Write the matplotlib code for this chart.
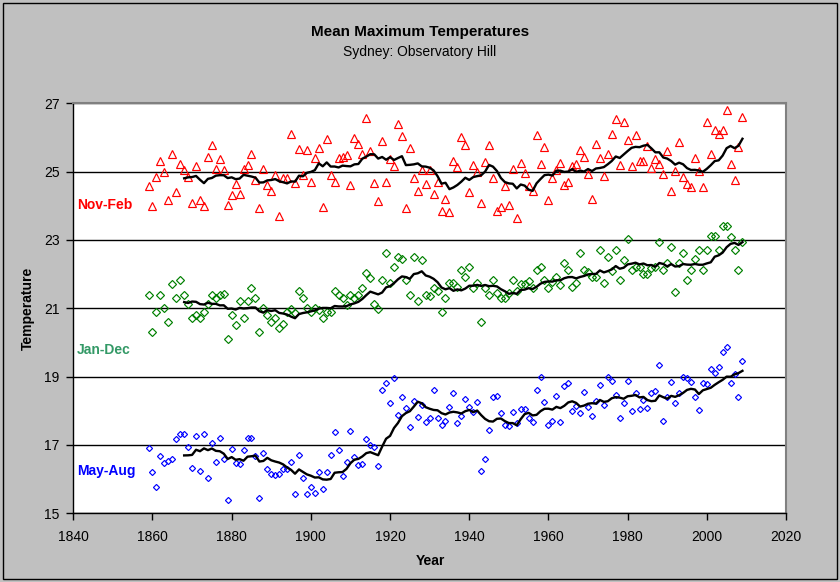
import matplotlib
matplotlib.use('Agg')
import matplotlib.pyplot as plt
import numpy as np
import pandas as pd
from matplotlib.patches import Rectangle

plt.rcParams['font.family'] = ['Liberation Sans', 'DejaVu Sans']

years = list(range(1859, 2010))

nov_feb = [
    24.57, 24.00, 24.84, 25.30, 24.98, 24.16, 25.52, 24.40, 25.22, 25.06,
    24.85, 24.09, 25.16, 24.18, 23.99, 25.42, 25.77, 25.08, 25.36, 25.04,
    24.02, 24.31, 24.63, 24.35, 25.08, 25.18, 25.52, 24.75, 23.93, 25.08,
    24.61, 24.42, 24.90, 23.71, 24.81, 24.82, 26.11, 24.68, 25.67, 24.90,
    25.63, 24.69, 25.41, 25.70, 23.96, 25.95, 24.90, 24.69, 25.39, 25.44,
    25.50, 24.61, 25.99, 25.80, 25.52, 26.56, 25.60, 24.66, 24.14, 25.91,
    24.70, 25.36, 25.16, 26.38, 26.05, 23.95, 25.68, 24.80, 24.42, 25.04,
    24.63, 25.04, 24.35, 24.71, 23.86, 24.21, 23.81, 25.30, 25.15, 26.01,
    25.77, 24.40, 25.18, 25.00, 24.09, 25.29, 25.77, 24.80, 23.86, 23.96,
    24.59, 24.02, 25.07, 23.63, 25.24, 24.97, 24.59, 24.43, 26.08, 25.21,
    25.73, 24.18, 24.80, 25.05, 25.24, 24.61, 24.69, 25.16, 25.22, 25.63,
    25.44, 24.92, 24.21, 25.80, 25.39, 24.87, 25.53, 26.11, 26.53, 25.20,
    26.46, 25.92, 25.16, 26.08, 25.30, 25.30, 25.76, 25.11, 25.36, 25.21,
    24.94, 25.60, 24.44, 25.03, 25.87, 24.84, 24.63, 24.56, 25.40, 25.03,
    24.56, 26.46, 25.51, 26.23, 26.09, 26.23, 26.80, 25.21, 24.75, 25.73,
    26.61,
]

jan_dec = [
    21.39, 20.30, 20.88, 21.39, 21.01, 20.61, 21.71, 21.31, 21.83, 21.39,
    21.12, 20.73, 20.80, 20.71, 20.90, 21.12, 21.39, 21.31, 21.39, 21.41,
    20.10, 20.80, 20.51, 21.21, 20.71, 21.21, 21.58, 21.31, 20.30, 21.00,
    20.80, 20.59, 20.73, 20.42, 20.53, 20.90, 20.98, 20.85, 21.51, 21.31,
    21.00, 20.88, 21.00, 20.95, 20.73, 20.90, 20.88, 21.51, 21.39, 21.29,
    21.10, 21.39, 21.31, 21.39, 21.58, 22.02, 21.90, 21.12, 20.98, 21.83,
    22.61, 21.73, 22.20, 22.51, 22.43, 21.83, 21.39, 22.51, 21.21, 22.41,
    21.39, 21.37, 21.58, 21.51, 20.88, 21.31, 21.73, 21.73, 21.63, 22.12,
    21.91, 22.20, 21.58, 21.75, 20.59, 21.58, 21.39, 21.83, 21.45, 21.31,
    21.31, 21.44, 21.83, 21.51, 21.70, 21.70, 21.81, 21.58, 22.12, 22.20,
    21.83, 21.58, 21.78, 21.91, 21.68, 22.32, 22.12, 21.61, 21.73, 22.61,
    22.12, 22.05, 21.91, 21.91, 22.71, 21.73, 22.51, 22.10, 22.71, 21.83,
    22.41, 23.03, 22.12, 22.20, 22.20, 22.00, 22.00, 22.17, 22.20, 22.93,
    22.12, 22.32, 22.80, 21.49, 22.32, 22.61, 21.83, 22.12, 22.43, 22.71,
    22.12, 22.71, 23.13, 23.13, 22.71, 23.41, 23.41, 23.10, 22.71, 22.12,
    22.93,
]

may_aug = [
    16.90, 16.20, 15.76, 16.68, 16.48, 16.54, 16.59, 17.17, 17.31, 17.31,
    16.93, 16.32, 17.27, 16.25, 17.31, 16.02, 17.07, 16.49, 17.20, 16.59,
    15.38, 16.87, 16.48, 16.44, 16.85, 17.20, 17.20, 16.68, 15.46, 16.76,
    16.29, 16.15, 16.12, 16.14, 16.31, 16.29, 16.51, 15.56, 16.71, 16.04,
    15.56, 15.76, 15.59, 16.20, 15.71, 16.20, 16.71, 17.39, 16.85, 16.10,
    16.49, 17.42, 16.64, 16.41, 16.43, 17.17, 17.00, 16.95, 16.39, 18.61,
    18.81, 18.24, 18.96, 17.88, 18.41, 18.09, 17.54, 18.30, 17.81, 18.17,
    17.66, 17.78, 18.61, 17.78, 17.57, 17.70, 18.12, 18.51, 17.63, 17.85,
    18.34, 18.12, 17.97, 18.27, 16.24, 16.58, 17.44, 18.41, 18.44, 17.93,
    17.57, 17.56, 17.96, 17.63, 18.04, 18.06, 17.80, 17.66, 18.61, 19.00,
    18.27, 17.58, 17.70, 18.43, 17.67, 18.73, 18.80, 17.99, 18.14, 17.93,
    18.56, 18.12, 17.86, 18.29, 18.75, 18.17, 19.00, 18.86, 18.46, 17.79,
    18.22, 18.86, 17.99, 18.53, 18.04, 18.32, 18.07, 18.53, 18.59, 19.35,
    17.70, 18.41, 18.83, 18.24, 18.51, 19.00, 18.95, 18.85, 18.39, 18.02,
    18.80, 18.77, 19.21, 19.10, 19.27, 19.71, 19.88, 18.82, 19.08, 18.39,
    19.47,
]

series_names = ['Nov-Feb', 'Jan-Dec', 'May-Aug']
window = 10
x_ticks = list(range(1840, 2021, 20))
y_ticks = list(range(15, 28, 2))

fig = plt.figure(figsize=(8.4, 5.82), dpi=100, facecolor='#C0C0C0')
fig.patches.append(Rectangle((0.004, 0.005), 0.992, 0.99, transform=fig.transFigure,
                             fill=False, edgecolor='black', linewidth=1))

ax = fig.add_axes([73.3 / 840, 1 - 513.3 / 582, (786 - 73.3) / 840, (513.3 - 103.3) / 582])
ax.set_facecolor('white')

df = pd.DataFrame({'year': years, 'nf': nov_feb, 'jd': jan_dec, 'ma': may_aug})

ax.plot(df['year'], df['nf'], linestyle='none', marker='^', markersize=6.3,
        markerfacecolor='none', markeredgecolor='#FF0000', markeredgewidth=0.85)
ax.plot(df['year'], df['jd'], linestyle='none', marker='D', markersize=4.4,
        markerfacecolor='none', markeredgecolor='#008000', markeredgewidth=0.85)
ax.plot(df['year'], df['ma'], linestyle='none', marker='D', markersize=3.1,
        markerfacecolor='none', markeredgecolor='#0000FF', markeredgewidth=0.85)

for col in ['nf', 'jd', 'ma']:
    ma = df[col].rolling(window).mean()
    ax.plot(df['year'], ma, color='black', linewidth=1.7)

ax.set_xlim(1840, 2020)
ax.set_ylim(15, 27)
ax.set_xticks(x_ticks)
ax.set_yticks(y_ticks)
ax.tick_params(axis='both', direction='out', length=5, width=1, labelsize=10, colors='black')
ax.tick_params(axis='x', pad=7)
ax.tick_params(axis='y', pad=5)
ax.yaxis.grid(True, color='black', linewidth=1)
ax.set_axisbelow(True)

for s in ['top', 'right']:
    ax.spines[s].set_color('#808080')
    ax.spines[s].set_linewidth(1.5)
for s in ['left', 'bottom']:
    ax.spines[s].set_color('black')
    ax.spines[s].set_linewidth(1)

ax.text(0.005, 0.752, series_names[0], transform=ax.transAxes, color='#FF0000',
        fontsize=10, fontweight='bold', ha='left', va='center')
ax.text(0.005, 0.398, series_names[1], transform=ax.transAxes, color='#339966',
        fontsize=10, fontweight='bold', ha='left', va='center')
ax.text(0.005, 0.104, series_names[2], transform=ax.transAxes, color='#0000FF',
        fontsize=10, fontweight='bold', ha='left', va='center')

fig.text(0.5, 1 - 32 / 582, 'Mean Maximum Temperatures', ha='center', va='center',
         fontsize=11, fontweight='bold')
fig.text(0.5, 1 - 52 / 582, 'Sydney: Observatory Hill', ha='center', va='center',
         fontsize=10)
fig.text(430 / 840, 1 - 561 / 582, 'Year', ha='center', va='center',
         fontsize=10, fontweight='bold')
fig.text(28 / 840, 1 - 308 / 582, 'Temperature', ha='center', va='center',
         fontsize=10, fontweight='bold', rotation=90)

fig.savefig('out.png', dpi=100, facecolor=fig.get_facecolor())
